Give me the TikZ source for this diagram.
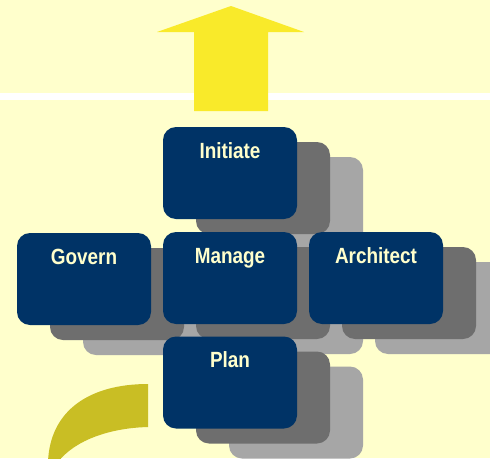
\documentclass[tikz,border=0pt]{standalone}
\usepackage{fontspec}
\usepackage{tikz}
\usepackage{xcolor}
\usetikzlibrary{calc}
\newfontfamily\boxfont[FakeStretch=0.86]{Liberation Sans}
\definecolor{Paper}{HTML}{FFFFCC}
\definecolor{Sun}{HTML}{F9EA2A}
\definecolor{Olive}{HTML}{C9BE24}
\definecolor{Navy}{HTML}{003366}
\definecolor{DarkShade}{HTML}{6E6E6E}
\definecolor{LightShade}{HTML}{A6A6A6}

\begin{document}
\begin{tikzpicture}[x=1pt,y=-1pt,
    card/.style={rounded corners=13pt,minimum width=134pt,inner xsep=0pt,inner ysep=15pt,
      text height=16pt,text depth=46pt},
    box/.style={card,fill=Navy,text=Paper,font=\boxfont\bfseries\fontsize{22}{26}\selectfont},
    shadedark/.style={card,fill=DarkShade},
    shadelight/.style={card,fill=LightShade}]
  \useasboundingbox (0,0) rectangle (490,458);
  \clip (0,0) rectangle (490,458);
  \fill[Paper] (0,0) rectangle (490,458);
  \fill[white] (0,93) rectangle (490,100);
  % up arrow
  \fill[Sun] (194,111) -- (194,32) -- (157,32) -- (231,6) -- (304,32) -- (268,32) -- (268,111) -- cycle;
  % curved band
  \fill[Olive] (148,384) .. controls (90,384) and (50,410) .. (48,462)
    -- (58,462) .. controls (75,440) and (110,428) .. (148,427) -- cycle;
  % shadows
  \foreach \n/\x/\y in {initiate/230/173,govern/84/279,manage/230/278,architect/376/278,plan/230/382.5}
    \node[shadelight] (\n-l) at ({\x+66},{\y+30}) {};
  \foreach \n/\x/\y in {initiate/230/173,govern/84/279,manage/230/278,architect/376/278,plan/230/382.5}
    \node[shadedark] (\n-d) at ({\x+33},{\y+15}) {};
  % boxes
  \node[box] (initiate) at (230,173) {Initiate};
  \node[box] (govern) at (84,279) {Govern};
  \node[box] (manage) at (230,278) {Manage};
  \node[box] (architect) at (376,278) {Architect};
  \node[box] (plan) at (230,382.5) {Plan};
\end{tikzpicture}
\end{document}
